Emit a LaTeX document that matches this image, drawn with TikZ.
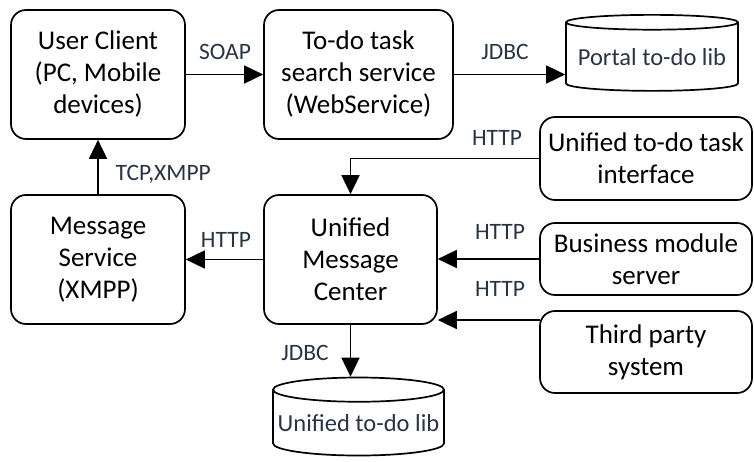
\documentclass[tikz,border=0pt]{standalone}
\usepackage{fontspec}
\setmainfont{Carlito}
\usetikzlibrary{arrows.meta,shapes.geometric}
\definecolor{labelgray}{RGB}{38,52,68}

\begin{document}
\begin{tikzpicture}[x=1pt,y=-1pt,
        box/.style={draw, line width=1.7pt, rounded corners=15pt, align=center,
            inner sep=0pt, font=\fontsize{27}{32}\selectfont},
        db/.style={draw, line width=1.7pt, cylinder, shape border rotate=90,
            inner sep=0pt, font=\fontsize{24.5}{28}\selectfont, text=labelgray},
        link/.style={line width=1.7pt, -{Triangle[length=19pt,width=18pt]}},
        lbl/.style={font=\fontsize{23.5}{28}\selectfont, text=labelgray}]
        \useasboundingbox (0,0) rectangle (754,462);

        % boxes
        \node[box, minimum width=174pt, minimum height=129pt] (client) at (98,74.5) {User Client\\(PC, Mobile\\devices)};
        \node[box, minimum width=189pt, minimum height=129pt] (search) at (358.5,74.5) {To-do task\\search service\\(WebService)};
        \node[box, minimum width=174pt, minimum height=129pt] (msg) at (98,259.5) {Message\\Service\\(XMPP)};
        \node[box, minimum width=173pt, minimum height=129pt] (umc) at (350.5,259.5) {Unified\\Message\\Center};
        \node[box, minimum width=212pt, minimum height=83pt] (iface) at (646,158.5) {Unified to-do task\\interface};
        \node[box, minimum width=212pt, minimum height=72pt] (biz) at (646,259) {Business module\\server};
        \node[box, minimum width=212pt, minimum height=82pt] (third) at (646,352) {Third party\\system};

        % databases
        \node[db, minimum width=172pt, minimum height=76pt, aspect=0.1] (portal) at (652,57) {Portal to-do lib};
        \node[db, minimum width=171pt, minimum height=78pt, aspect=0.15] (ulib) at (358.5,423) {Unified to-do lib};

        % arrows
        \draw[link] (client.east) -- (search.west);
        \draw[link] (search.east) -- (search.east -| portal.west);
        \draw[link] (msg.north) -- (client.south);
        \draw[link] (iface.west) -| (umc.north);
        \draw[link] (umc.west) -- (msg.east);
        \draw[link] (biz.west) -- (biz.west -| umc.east);
        \coordinate (tp) at (540,320);
        \draw[link] (tp) -- (tp -| umc.east);
        \draw[link] (umc.south) -- (umc.south |- ulib.north);

        % labels
        \node[lbl] (soap) at (225,52) {SOAP};
        \node[lbl] (jdbc1) at (505,52) {JDBC};
        \node[lbl, anchor=west] (tcp) at (112,174) {TCP,XMPP};
        \node[lbl] (http1) at (497,138) {HTTP};
        \node[lbl] (http2) at (226,240) {HTTP};
        \node[lbl] (http3) at (500,232) {HTTP};
        \node[lbl] (http4) at (500,289) {HTTP};
        \node[lbl] (jdbc2) at (305,353) {JDBC};
\end{tikzpicture}
\end{document}
